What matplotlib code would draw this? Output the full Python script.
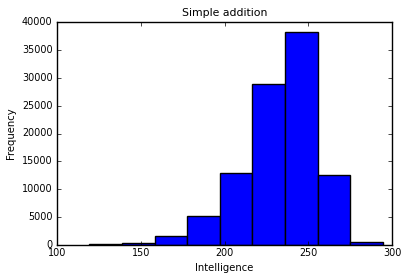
import matplotlib
matplotlib.use("Agg")
import matplotlib.pyplot as plt
import numpy as np

plt.style.use("classic")

bin_edges = [119.1, 138.6, 158.1, 177.6, 197.1, 216.6, 236.1, 255.6, 275.1, 294.6]
counts = [180, 410, 1560, 5200, 12860, 28880, 38150, 12500, 540]
title = "Simple addition"
xlabel = "Intelligence"
ylabel = "Frequency"

fig = plt.figure(figsize=(4.07, 2.79), dpi=100)
W, H = 407, 279
ax = fig.add_axes([57.3 / W, (H - 245) / H, (392 - 57.3) / W, (245 - 22) / H])

edges = np.array(bin_edges)
ax.bar(edges[:-1], counts, width=np.diff(edges), align="edge",
       color="#0000ff", edgecolor="black", linewidth=1.0)
ax.set_xlim(100, 300)
ax.set_ylim(0, 40000)
ax.set_title(title, fontsize=7.8, pad=4)
ax.set_xlabel(xlabel, fontsize=7.2, labelpad=3)
ax.set_ylabel(ylabel, fontsize=7.2, labelpad=4.3)
ax.tick_params(labelsize=6.9, length=3)
ax.tick_params(axis="x", pad=2.5)
ax.tick_params(axis="y", pad=3.5)

fig.savefig("out.png", dpi=100)
